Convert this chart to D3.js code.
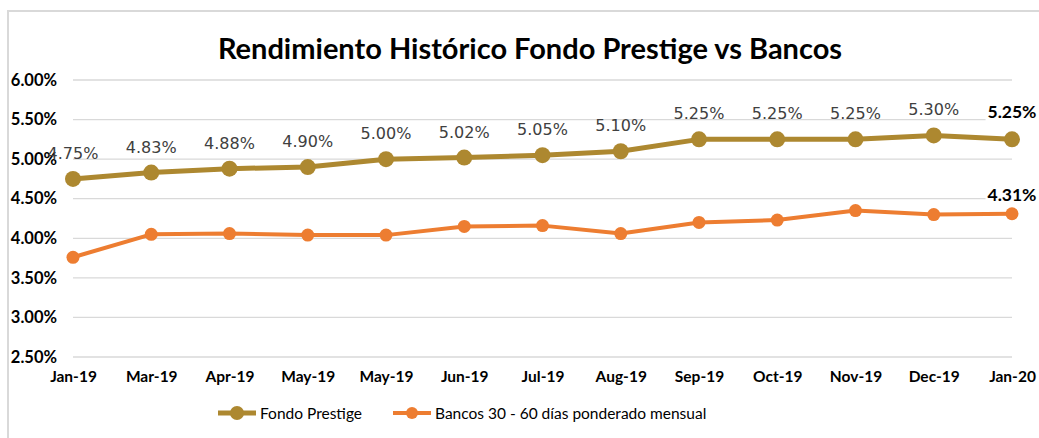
<!DOCTYPE html>
<html>
<head>
<meta charset="utf-8">
<script src="https://cdn.jsdelivr.net/npm/d3@7"></script>
<style>
  body { margin: 0; background: #fff; }
  svg { display: block; }
</style>
</head>
<body>
<script>
// chart data
let months = ["Jan-19", "Mar-19", "Apr-19", "May-19", "May-19 ", "Jun-19", "Jul-19",
              "Aug-19", "Sep-19", "Oct-19", "Nov-19", "Dec-19", "Jan-20"];
let fondo = [4.75, 4.83, 4.88, 4.90, 5.00, 5.02, 5.05, 5.10, 5.25, 5.25, 5.25, 5.30, 5.25];
let bancos = [3.76, 4.05, 4.06, 4.04, 4.04, 4.15, 4.16, 4.06, 4.20, 4.23, 4.35, 4.30, 4.31];
let yTicks = [2.5, 3.0, 3.5, 4.0, 4.5, 5.0, 5.5, 6.0];

let canvasW = 1039;
let canvasH = 438;

let gold = "#AD8830";
let orange = "#ED7D31";

let svg = d3.select("body").append("svg")
  .attr("width", canvasW)
  .attr("height", canvasH);

// outer chart border (only top / left visible in the crop)
svg.append("rect")
  .attr("x", 8).attr("y", 11)
  .attr("width", canvasW + 20).attr("height", canvasH + 20)
  .attr("fill", "none")
  .attr("stroke", "#d9d9d9")
  .attr("stroke-width", 2);

svg.append("text")
  .attr("x", 530).attr("y", 59)
  .attr("text-anchor", "middle")
  .attr("font-family", "Lato, sans-serif")
  .attr("font-weight", "bold")
  .attr("font-size", "29px")
  .attr("fill", "#000")
  .text("Rendimiento Histórico Fondo Prestige vs Bancos");

let x = d3.scalePoint()
  .domain(d3.range(months.length))
  .range([73, 1012]);

let y = d3.scaleLinear()
  .domain([2.5, 6.0])
  .range([357, 80]);

// gridlines
svg.append("g")
  .selectAll("line")
  .data(yTicks)
  .join("line")
  .attr("x1", 73).attr("x2", 1012)
  .attr("y1", d => y(d)).attr("y2", d => y(d))
  .attr("stroke", "#d9d9d9")
  .attr("stroke-width", 1.3);

// y axis labels
let yAxis = svg.append("g")
  .attr("transform", "translate(57,0)")
  .call(d3.axisLeft(y).tickValues(yTicks).tickFormat(d => d.toFixed(2) + "%").tickSize(0).tickPadding(0));
yAxis.select(".domain").remove();
yAxis.selectAll("text")
  .attr("font-family", "Lato, sans-serif")
  .attr("font-weight", "bold")
  .attr("font-size", "16.5px")
  .attr("fill", "#000");

// x axis labels
let xAxis = svg.append("g")
  .attr("transform", "translate(0,371)")
  .call(d3.axisBottom(x).tickFormat(i => months[i]).tickSize(0).tickPadding(0));
xAxis.select(".domain").remove();
xAxis.selectAll("text")
  .attr("font-family", "Lato, sans-serif")
  .attr("font-weight", "bold")
  .attr("font-size", "15.5px")
  .attr("fill", "#000");

let line = d3.line()
  .x((d, i) => x(i))
  .y(d => y(d));

function drawSeries(values, color, sw, r) {
  svg.append("path")
    .datum(values)
    .attr("d", line)
    .attr("fill", "none")
    .attr("stroke", color)
    .attr("stroke-width", sw)
    .attr("stroke-linejoin", "round");
  svg.append("g")
    .selectAll("circle")
    .data(values)
    .join("circle")
    .attr("cx", (d, i) => x(i))
    .attr("cy", d => y(d))
    .attr("r", r)
    .attr("fill", color);
}

drawSeries(bancos, orange, 4, 6.5);
drawSeries(fondo, gold, 5, 8);

// fondo data labels (last one bold)
let last = fondo.length - 1;
svg.append("g")
  .selectAll("text")
  .data(fondo.slice(0, last))
  .join("text")
  .attr("x", (d, i) => x(i))
  .attr("y", d => y(d) - 20)
  .attr("text-anchor", "middle")
  .attr("font-family", "DejaVu Sans, sans-serif")
  .attr("font-size", "16px")
  .attr("fill", "#404040")
  .text(d => d.toFixed(2) + "%");

function boldLabel(val, yPos) {
  let g = svg.append("g");
  let t = g.append("text")
    .attr("x", x(last))
    .attr("y", yPos)
    .attr("text-anchor", "middle")
    .attr("font-family", "Lato, sans-serif")
    .attr("font-weight", "bold")
    .attr("font-size", "17.5px")
    .attr("fill", "#000")
    .text(val.toFixed(2) + "%");
  let bb = t.node().getBBox();
  g.insert("rect", "text")
    .attr("x", bb.x - 2).attr("y", bb.y)
    .attr("width", bb.width + 4).attr("height", bb.height)
    .attr("fill", "#fff");
}
boldLabel(fondo[last], y(fondo[last]) - 21);
boldLabel(bancos[last], y(bancos[last]) - 13);

// legend
let legend = [
  { name: "Fondo Prestige", color: gold, sw: 5, r: 7, x0: 218 },
  { name: "Bancos 30 - 60 días ponderado mensual", color: orange, sw: 4, r: 6, x0: 393 }
];
let lg = svg.append("g")
  .selectAll("g")
  .data(legend)
  .join("g")
  .attr("transform", d => "translate(" + d.x0 + ",413)");
lg.append("line")
  .attr("x1", 0).attr("x2", 38)
  .attr("stroke", d => d.color)
  .attr("stroke-width", d => d.sw);
lg.append("circle")
  .attr("cx", 19).attr("r", d => d.r)
  .attr("fill", d => d.color);
lg.append("text")
  .attr("x", 42).attr("y", 6)
  .attr("font-family", "Lato, sans-serif")
  .attr("font-size", "15.5px")
  .attr("fill", "#000")
  .text(d => d.name);
</script>
</body>
</html>
